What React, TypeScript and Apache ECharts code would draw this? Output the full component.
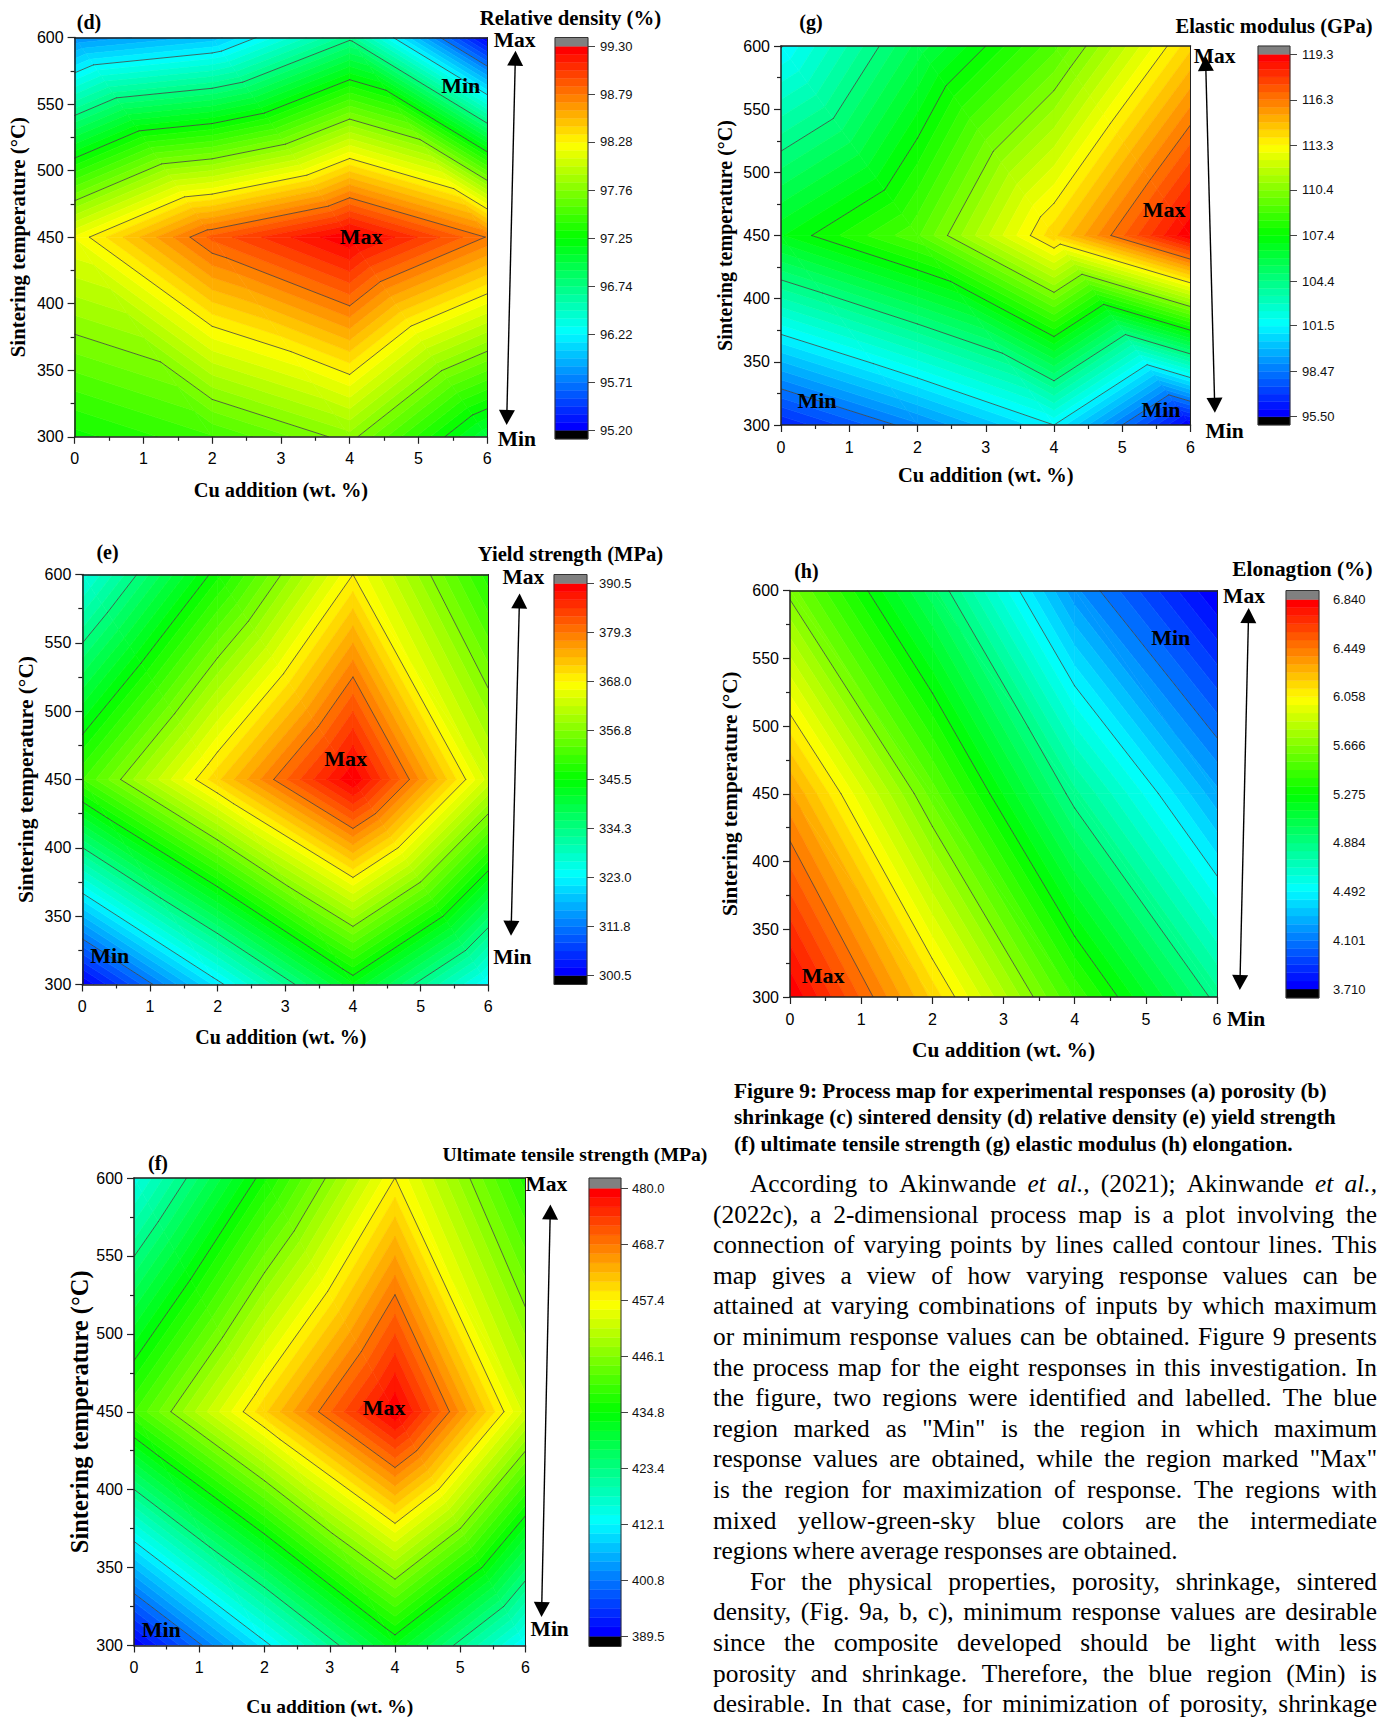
import React, { useEffect, useRef } from "react";
import * as echarts from "echarts";

const cuAddition = [0, 2, 4, 6];
const temperatures = [300, 450, 600];

const relDensity300 = [97.3, 97.5, 97.81, 97.0];
const relDensity450 = [98.2, 98.9, 99.3, 98.78];
const relDensity600 = [95.8, 96.0, 96.7, 95.2];
const relDensityTicks = ["99.30", "98.79", "98.28", "97.76", "97.25", "96.74", "96.22", "95.71", "95.20"];

const modulus300 = [96.5, 98.86, 101.45, 95.5];
const modulus450 = [106.85, 109.3, 114.2, 119.3];
const modulus600 = [101.4, 105.6, 109.2, 114.2];
const modulusTicks = ["119.3", "116.3", "113.3", "110.4", "107.4", "104.4", "101.5", "98.47", "95.50"];

const yield300 = [300.5, 322, 343.4, 323];
const yield450 = [351, 371.3, 390.5, 363.5];
const yield600 = [325.8, 346.8, 368, 348.3];
const yieldTicks = ["390.5", "379.3", "368.0", "356.8", "345.5", "334.3", "323.0", "311.8", "300.5"];

const elong300 = [6.84, 6.17, 5.46, 4.85];
const elong450 = [6.33, 5.57, 4.84, 4.25];
const elong600 = [5.635, 4.975, 4.185, 3.71];
const elongTicks = ["6.840", "6.449", "6.058", "5.666", "5.275", "4.884", "4.492", "4.101", "3.710"];

const uts300 = [389.5, 411.1, 432.6, 412.1];
const uts450 = [440.3, 460.7, 480.0, 452.9];
const uts600 = [414.9, 436.1, 457.4, 437.6];
const utsTicks = ["480.0", "468.7", "457.4", "446.1", "434.8", "423.4", "412.1", "400.8", "389.5"];

const xAxisTitle = "Cu addition (wt. %)";
const yAxisTitle = "Sintering temperature (°C)";

const captionLines = [
  "Figure 9: Process map for experimental responses (a) porosity (b)",
  "shrinkage (c) sintered density (d) relative density (e) yield strength",
  "(f) ultimate tensile strength (g) elastic modulus (h) elongation.",
];

// a leading underscore marks an italic word; "^" marks an indented line, "$" an unjustified one
const bodyLines = [
  "^According to Akinwande _et _al., (2021); Akinwande _et _al.,",
  "(2022c), a 2-dimensional process map is a plot involving the",
  "connection of varying points by lines called contour lines. This",
  "map gives a view of how varying response values can be",
  "attained at varying combinations of inputs by which maximum",
  "or minimum response values can be obtained. Figure 9 presents",
  "the process map for the eight responses in this investigation. In",
  "the figure, two regions were identified and labelled. The blue",
  'region marked as "Min" is the region in which maximum',
  'response values are obtained, while the region marked "Max"',
  "is the region for maximization of response. The regions with",
  "mixed yellow-green-sky blue colors are the intermediate",
  "$regions where average responses are obtained.",
  "^For the physical properties, porosity, shrinkage, sintered",
  "density, (Fig. 9a, b, c), minimum response values are desirable",
  "since the composite developed should be light with less",
  "porosity and shrinkage. Therefore, the blue region (Min) is",
  "desirable. In that case, for minimization of porosity, shrinkage",
];

// ---- layout ----
type Panel = {
  tag: string; title: string; rows: number[][]; ticks: string[];
  plot: number[]; bar: number[];
  tagAt: number[]; titleAt: number[]; maxAt: number[]; minAt: number[];
  innerMax: number[]; innerMin: number[][];
  arrow: number[]; yGap: number; xGap: number; xPad: number;
  titleSize: number; xSize: number; ySize: number; barMargin: number; barTicks: boolean;
};

const panels: Panel[] = [
  {
    tag: "(d)", title: "Relative density (%)", rows: [relDensity300, relDensity450, relDensity600], ticks: relDensityTicks,
    plot: [74.6, 37.5, 412.6, 399.3], bar: [555, 37.5, 33, 401.5],
    tagAt: [89, 22], titleAt: [570.5, 17.5], maxAt: [514.6, 40], minAt: [516.8, 439],
    innerMax: [361, 236], innerMin: [[460.8, 85.6]],
    arrow: [515.5, 50.7, 506.6, 425], yGap: 47, xGap: 43.5, xPad: 0,
    titleSize: 20.8, xSize: 20.4, ySize: 20.8, barMargin: 12, barTicks: true,
  },
  {
    tag: "(g)", title: "Elastic modulus (GPa)", rows: [modulus300, modulus450, modulus600], ticks: modulusTicks,
    plot: [781, 46, 409.5, 379], bar: [1258, 46, 32, 379],
    tagAt: [811, 22], titleAt: [1274, 26.3], maxAt: [1214.6, 56], minAt: [1224.5, 431],
    innerMax: [1164, 209.6], innerMin: [[817, 400.5], [1161, 409]],
    arrow: [1205.5, 56, 1214.9, 412.7], yGap: 46, xGap: 39.5, xPad: 0,
    titleSize: 20.5, xSize: 20.5, ySize: 20, barMargin: 12, barTicks: true,
  },
  {
    tag: "(e)", title: "Yield strength (MPa)", rows: [yield300, yield450, yield600], ticks: yieldTicks,
    plot: [82.3, 574.5, 406, 410], bar: [554, 574.5, 33, 410],
    tagAt: [107.5, 552], titleAt: [570.5, 554], maxAt: [523.4, 577], minAt: [512.4, 957],
    innerMax: [345.6, 758], innerMin: [[109.7, 955.6]],
    arrow: [519.6, 593.5, 511, 935.7], yGap: 46, xGap: 42, xPad: 9,
    titleSize: 20.6, xSize: 20, ySize: 21.4, barMargin: 12, barTicks: true,
  },
  {
    tag: "(h)", title: "Elonagtion (%)", rows: [elong300, elong450, elong600], ticks: elongTicks,
    plot: [790, 590.5, 427, 406.5], bar: [1286, 590.5, 33, 407.5],
    tagAt: [806.4, 570.5], titleAt: [1302.4, 569.4], maxAt: [1244, 596], minAt: [1246, 1019],
    innerMax: [823, 975.4], innerMin: [[1170.7, 637.5]],
    arrow: [1248.7, 608.1, 1239.8, 990], yGap: 50, xGap: 42, xPad: 0,
    titleSize: 21.3, xSize: 21.4, ySize: 21.2, barMargin: 14, barTicks: false,
  },
  {
    tag: "(f)", title: "Ultimate tensile strength (MPa)", rows: [uts300, uts450, uts600], ticks: utsTicks,
    plot: [134, 1178, 391.5, 467.5], bar: [589, 1178, 32, 468.5],
    tagAt: [158, 1163], titleAt: [575, 1154], maxAt: [546.4, 1184], minAt: [549.7, 1629],
    innerMax: [384, 1407.7], innerMin: [[161.3, 1629]],
    arrow: [550.4, 1204.5, 541.5, 1617], yGap: 42, xGap: 51, xPad: 0,
    titleSize: 19.7, xSize: 19.5, ySize: 24.5, barMargin: 11, barTicks: true,
  },
];

const BAND_COUNT = 48;
const SERIF = "Liberation Serif";
const SANS = "Liberation Sans";
const BODY_SIZE = 25.4;
const CAP_SHARE = 8 / 350;

function rainbow(t: number) {
  let r = 0, g = 0, b = 0;
  if (t < 0.25) { g = 4 * t; b = 1; }
  else if (t < 0.5) { g = 1; b = 1 - 4 * (t - 0.25); }
  else if (t < 0.75) { r = 4 * (t - 0.5); g = 1; }
  else { r = 1; g = 1 - 4 * (t - 0.75); }
  return `rgb(${Math.round(r * 255)},${Math.round(g * 255)},${Math.round(b * 255)})`;
}

type V = number[]; // x, y, value

function triangles(rows: number[][]): V[][] {
  const node = (i: number, j: number): V => [cuAddition[i], temperatures[j], rows[j][i]];
  const out: V[][] = [];
  for (let j = 0; j < temperatures.length - 1; j++) {
    for (let i = 0; i < cuAddition.length - 1; i++) {
      const tl = node(i, j + 1), tr = node(i + 1, j + 1), bl = node(i, j), br = node(i + 1, j);
      out.push([tl, tr, br], [tl, bl, br]);
    }
  }
  return out;
}

function clipAt(poly: V[], level: number, keepAbove: boolean): V[] {
  const inside = (p: V) => (keepAbove ? p[2] >= level : p[2] <= level);
  const out: V[] = [];
  for (let i = 0; i < poly.length; i++) {
    const a = poly[i], b = poly[(i + 1) % poly.length];
    const ia = inside(a), ib = inside(b);
    if (ia) out.push(a);
    if (ia !== ib) {
      const t = (level - a[2]) / (b[2] - a[2]);
      out.push([a[0] + t * (b[0] - a[0]), a[1] + t * (b[1] - a[1]), level]);
    }
  }
  return out;
}

function bandPolygons(rows: number[][], vmin: number, vmax: number) {
  const step = (vmax - vmin) / BAND_COUNT;
  const polys: { color: string; pts: number[][] }[] = [];
  for (const tri of triangles(rows)) {
    for (let k = 0; k < BAND_COUNT; k++) {
      const lo = k === 0 ? -Infinity : vmin + k * step;
      const hi = k === BAND_COUNT - 1 ? Infinity : vmin + (k + 1) * step;
      let p: V[] = tri;
      if (lo !== -Infinity) p = clipAt(p, lo, true);
      if (p.length && hi !== Infinity) p = clipAt(p, hi, false);
      if (p.length >= 3) polys.push({ color: rainbow(k / (BAND_COUNT - 1)), pts: p.map((q) => [q[0], q[1]]) });
    }
  }
  return polys;
}

function contourSegments(rows: number[][], vmin: number, vmax: number) {
  const segs: number[][][] = [];
  for (let l = 1; l < 8; l++) {
    const level = vmin + (l * (vmax - vmin)) / 8;
    for (const tri of triangles(rows)) {
      const hits: number[][] = [];
      for (let i = 0; i < 3; i++) {
        const a = tri[i], b = tri[(i + 1) % 3];
        if (a[2] < level !== b[2] < level) {
          const t = (level - a[2]) / (b[2] - a[2]);
          hits.push([a[0] + t * (b[0] - a[0]), a[1] + t * (b[1] - a[1])]);
        }
      }
      if (hits.length === 2) segs.push(hits);
    }
  }
  return segs;
}

function textEl(text: string, x: number, y: number, size: number, opts: any = {}) {
  return {
    type: "text", x, y, z: 100, silent: true,
    style: {
      text, fontSize: size, fontFamily: SERIF, fontWeight: opts.weight || "normal", fontStyle: opts.italic ? "italic" : "normal",
      fill: "#000", align: opts.align || "center", verticalAlign: "middle",
    },
  };
}

function buildBody() {
  const ctx = document.createElement("canvas").getContext("2d") as CanvasRenderingContext2D;
  const left = 713, right = 1377;
  const out: any[] = [];
  bodyLines.forEach((raw, row) => {
    const indent = raw[0] === "^";
    const flush = raw[0] === "$";
    const line = indent || flush ? raw.slice(1) : raw;
    const words = line.split(" ").map((w) => ({ italic: w[0] === "_", text: w[0] === "_" ? w.slice(1) : w }));
    const widths = words.map((w) => {
      ctx.font = `${w.italic ? "italic " : ""}${BODY_SIZE}px "${SERIF}"`;
      return ctx.measureText(w.text).width;
    });
    const start = left + (indent ? 37 : 0);
    const total = widths.reduce((a, b) => a + b, 0);
    const gap = flush ? BODY_SIZE * 0.2 : (right - start - total) / (words.length - 1);
    let x = start;
    const y = 1183 + row * 30.6;
    words.forEach((w, i) => {
      out.push(textEl(w.text, x, y, BODY_SIZE, { italic: w.italic, align: "left" }));
      x += widths[i] + gap;
    });
  });
  return out;
}

function arrowEls(a: number[]) {
  const [x1, y1, x2, y2] = a;
  const len = Math.hypot(x2 - x1, y2 - y1);
  const ux = (x2 - x1) / len, uy = (y2 - y1) / len;
  const head = 15, half = 8;
  const tri = (tx: number, ty: number, dx: number, dy: number) => ({
    type: "polygon", z: 100, silent: true,
    shape: { points: [[tx, ty], [tx + dx * head - dy * half, ty + dy * head + dx * half], [tx + dx * head + dy * half, ty + dy * head - dx * half]] },
    style: { fill: "#000" },
  });
  return [
    { type: "line", z: 100, silent: true, shape: { x1: x1 + ux * 10, y1: y1 + uy * 10, x2: x2 - ux * 10, y2: y2 - uy * 10 }, style: { stroke: "#000", lineWidth: 1.4 } },
    tri(x1, y1, ux, uy),
    tri(x2, y2, -ux, -uy),
  ];
}

function buildOption() {
  const grid: any[] = [], xAxis: any[] = [], yAxis: any[] = [], series: any[] = [], graphic: any[] = [];
  const frame = { lineStyle: { color: "#222", width: 1.5 } };

  panels.forEach((p) => {
    const ticks = p.ticks.map(Number);
    const vmax = Math.max(...ticks), vmin = Math.min(...ticks);
    const range = vmax - vmin;

    // --- contour plot ---
    const gridIndex = grid.length;
    grid.push({ left: p.plot[0], top: p.plot[1], width: p.plot[2], height: p.plot[3] });
    const xMain = xAxis.length;
    xAxis.push({
      gridIndex, type: "value", position: "bottom", min: 0, max: 6, interval: 1, z: 5,
      name: xAxisTitle, nameLocation: "middle", nameGap: p.xGap,
      nameTextStyle: { fontFamily: SERIF, fontWeight: "bold", fontSize: p.xSize, color: "#000", padding: [0, p.xPad, 0, 0] },
      axisLine: { show: true, onZero: false, ...frame },
      axisTick: { show: true, length: 7, lineStyle: { color: "#222", width: 1.2 } },
      minorTick: { show: true, splitNumber: 2, length: 4, lineStyle: { color: "#222", width: 1.2 } },
      axisLabel: { margin: 14, fontFamily: SANS, fontSize: 16, color: "#000" },
      splitLine: { show: false },
    });
    xAxis.push({
      gridIndex, type: "value", position: "top", min: 0, max: 6, interval: 1, z: 5,
      axisLine: { show: true, onZero: false, ...frame }, axisTick: { show: false }, axisLabel: { show: false }, splitLine: { show: false },
    });
    const yMain = yAxis.length;
    yAxis.push({
      gridIndex, type: "value", position: "left", min: 300, max: 600, interval: 50, z: 5,
      name: yAxisTitle, nameLocation: "middle", nameGap: p.yGap, nameRotate: 90,
      nameTextStyle: { fontFamily: SERIF, fontWeight: "bold", fontSize: p.ySize, color: "#000" },
      axisLine: { show: true, onZero: false, ...frame },
      axisTick: { show: true, length: 7, lineStyle: { color: "#222", width: 1.2 } },
      minorTick: { show: true, splitNumber: 2, length: 4, lineStyle: { color: "#222", width: 1.2 } },
      axisLabel: { margin: 11, fontFamily: SANS, fontSize: 16, color: "#000" },
      splitLine: { show: false },
    });
    yAxis.push({
      gridIndex, type: "value", position: "right", min: 300, max: 600, interval: 50, z: 5,
      axisLine: { show: true, onZero: false, lineStyle: { color: "#222", width: 1 } }, axisTick: { show: false }, axisLabel: { show: false }, splitLine: { show: false },
    });

    const polys = bandPolygons(p.rows, vmin, vmax);
    series.push({
      type: "custom", xAxisIndex: xMain, yAxisIndex: yMain, clip: true, silent: true, progressive: 0, z: 2,
      data: polys.map((_, i) => [i]),
      renderItem: (_: any, api: any) => {
        const poly = polys[api.value(0)];
        return {
          type: "polygon",
          shape: { points: poly.pts.map((q) => api.coord(q)) },
          style: { fill: poly.color, stroke: poly.color, lineWidth: 0.6 },
        };
      },
    });
    const segs = contourSegments(p.rows, vmin, vmax);
    series.push({
      type: "custom", xAxisIndex: xMain, yAxisIndex: yMain, clip: true, silent: true, progressive: 0, z: 3,
      data: segs.map((_, i) => [i]),
      renderItem: (_: any, api: any) => {
        const s = segs[api.value(0)];
        const a = api.coord(s[0]), b = api.coord(s[1]);
        return {
          type: "line",
          shape: { x1: a[0], y1: a[1], x2: b[0], y2: b[1] },
          style: { stroke: "#444", lineWidth: 0.8, lineCap: "round" },
        };
      },
    });

    // --- colour scale ---
    const cap = range * CAP_SHARE;
    const barGrid = grid.length;
    grid.push({ left: p.bar[0], top: p.bar[1], width: p.bar[2], height: p.bar[3] });
    const xBar = xAxis.length;
    xAxis.push({ gridIndex: barGrid, type: "value", min: 0, max: 1, show: false });
    const yBar = yAxis.length;
    yAxis.push({
      gridIndex: barGrid, type: "value", position: "right", min: vmin - cap, max: vmax + cap, z: 5,
      axisLine: { show: false, onZero: false },
      axisTick: { show: p.barTicks, length: 7, customValues: ticks, lineStyle: { color: "#444", width: 1 } },
      axisLabel: {
        margin: p.barMargin, fontFamily: SANS, fontSize: 13, color: "#111", customValues: ticks,
        formatter: (v: number) => p.ticks[ticks.indexOf(v)] ?? String(v),
      },
      splitLine: { show: false },
    });
    const step = range / BAND_COUNT;
    const cells: { lo: number; hi: number; color: string }[] = [{ lo: vmin - cap, hi: vmin, color: "#000" }];
    for (let k = 0; k < BAND_COUNT; k++) cells.push({ lo: vmin + k * step, hi: vmin + (k + 1) * step, color: rainbow(k / (BAND_COUNT - 1)) });
    cells.push({ lo: vmax, hi: vmax + cap, color: "#808080" });
    series.push({
      type: "custom", xAxisIndex: xBar, yAxisIndex: yBar, clip: false, silent: true, progressive: 0, z: 2,
      data: cells.map((_, i) => [i]),
      renderItem: (_: any, api: any) => {
        const c = cells[api.value(0)];
        const a = api.coord([0, c.hi]), b = api.coord([1, c.lo]);
        return {
          type: "rect",
          shape: { x: a[0], y: a[1], width: b[0] - a[0], height: b[1] - a[1] },
          style: { fill: c.color, stroke: c.color, lineWidth: 0.4 },
        };
      },
    });
    graphic.push({
      type: "rect", z: 90, silent: true,
      shape: { x: p.bar[0], y: p.bar[1], width: p.bar[2], height: p.bar[3] },
      style: { fill: "none", stroke: "#333", lineWidth: 1 },
    });

    // --- annotations ---
    graphic.push(textEl(p.tag, p.tagAt[0], p.tagAt[1], 20, { weight: "bold" }));
    graphic.push(textEl(p.title, p.titleAt[0], p.titleAt[1], p.titleSize, { weight: "bold" }));
    graphic.push(textEl("Max", p.maxAt[0], p.maxAt[1], 21.5, { weight: "bold" }));
    graphic.push(textEl("Min", p.minAt[0], p.minAt[1], 21.5, { weight: "bold" }));
    graphic.push(textEl("Max", p.innerMax[0], p.innerMax[1], 22, { weight: "bold" }));
    p.innerMin.forEach((m) => graphic.push(textEl("Min", m[0], m[1], 22, { weight: "bold" })));
    graphic.push(...arrowEls(p.arrow));
  });

  captionLines.forEach((line, i) => graphic.push(textEl(line, 734, 1091 + i * 26.4, 21.3, { weight: "bold", align: "left" })));
  graphic.push(...buildBody());

  return { animation: false, backgroundColor: "#fff", grid, xAxis, yAxis, series, graphic: { elements: graphic } };
}

export default function App() {
  const ref = useRef<HTMLDivElement>(null);
  useEffect(() => {
    const chart = echarts.init(ref.current as HTMLDivElement, undefined, { renderer: "svg" });
    chart.setOption(buildOption() as any);
    return () => chart.dispose();
  }, []);
  return <div ref={ref} style={{ position: "absolute", left: 0, top: 0, width: 1388, height: 1720 }} />;
}
